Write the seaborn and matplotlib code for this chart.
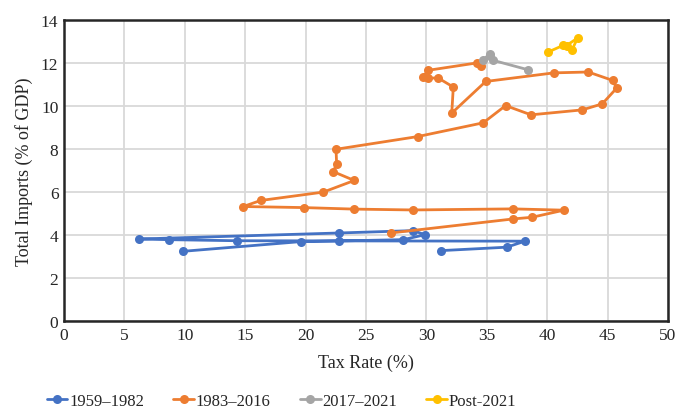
import numpy as np
import pandas as pd
import matplotlib
matplotlib.use("Agg")
import matplotlib.pyplot as plt
import seaborn as sns

# ---- data ----
blue_x = [9.88, 19.62, 22.76, 28.09, 29.88, 28.92, 22.76, 6.21, 8.69, 14.30, 38.16, 36.65, 31.18]
blue_y = [3.24, 3.69, 3.72, 3.78, 4.01, 4.20, 4.09, 3.81, 3.78, 3.73, 3.71, 3.43, 3.27]

orange_x = [27.04, 37.14, 38.74, 41.39, 37.19, 28.87, 24.01, 19.87, 14.84, 16.28,
            21.47, 24.03, 22.29, 22.57, 22.52, 29.28, 34.71, 36.56, 38.66, 42.91,
            44.56, 45.75, 45.42, 43.40, 40.56, 34.91, 32.10, 32.23, 30.98, 30.16,
            29.69, 30.16, 34.16, 34.52]
orange_y = [4.09, 4.74, 4.82, 5.15, 5.21, 5.16, 5.20, 5.27, 5.32, 5.60,
            5.99, 6.53, 6.94, 7.30, 7.98, 8.57, 9.21, 10.01, 9.58, 9.81,
            10.09, 10.82, 11.18, 11.57, 11.53, 11.13, 9.66, 10.87, 11.29, 11.29,
            11.33, 11.65, 11.99, 11.87]

gray_x = [34.71, 35.26, 35.30, 35.54, 38.44]
gray_y = [12.14, 12.42, 12.30, 12.11, 11.67]

yellow_x = [40.09, 41.33, 42.03, 42.52, 41.60]
yellow_y = [12.50, 12.81, 12.57, 13.15, 12.80]

series_names = ["1959\u20131982", "1983\u20132016", "2017\u20132021", "Post-2021"]
colors = ["#4472C4", "#ED7D31", "#A5A5A5", "#FFC000"]

x_ticks = list(range(0, 51, 5))
y_ticks = list(range(0, 15, 2))
x_label = "Tax Rate (%)"
y_label = "Total Imports (% of GDP)"

# ---- build table ----
frames = []
for name, xs, ys in zip(series_names,
                        [blue_x, orange_x, gray_x, yellow_x],
                        [blue_y, orange_y, gray_y, yellow_y]):
    frames.append(pd.DataFrame({"tax": xs, "imports": ys, "period": name,
                                "order": range(len(xs))}))
df = pd.concat(frames, ignore_index=True)

sns.set_theme(style="white")
plt.rcParams["font.family"] = ["Liberation Serif", "DejaVu Serif"]

fig = plt.figure(figsize=(6.83, 4.10), dpi=100)
ax = fig.add_axes([0.0937, 0.2146, 0.8843, 0.7349])

for name, col in zip(series_names, colors):
    sub = df[df["period"] == name]
    sns.lineplot(data=sub, x="tax", y="imports", sort=False, estimator=None,
                 color=col, linewidth=2.0, marker="o", markersize=6.5,
                 markeredgewidth=0, ax=ax, label=name, zorder=3)

ax.set_xlim(0, 50)
ax.set_ylim(0, 14)
ax.set_xticks(x_ticks)
ax.set_yticks(y_ticks)
ax.grid(True, color="#D9D9D9", linewidth=1.3, zorder=0)
ax.set_axisbelow(True)
for s in ax.spines.values():
    s.set_visible(True)
    s.set_color("#262626")
    s.set_linewidth(1.8)
ax.tick_params(axis="both", labelsize=12.5, colors="#262626", length=0, pad=4)
ax.set_xlabel(x_label, fontsize=13, color="#262626", labelpad=8)
ax.set_ylabel(y_label, fontsize=13, color="#262626", labelpad=6)

handles, labels = ax.get_legend_handles_labels()
ax.legend_.remove()
fig.legend(handles, labels, loc="center", bbox_to_anchor=(0.412, 0.02),
           ncol=4, frameon=False, fontsize=12, handlelength=1.25,
           handletextpad=0.1, columnspacing=1.75, borderaxespad=0)

fig.savefig("out.png", dpi=100)
